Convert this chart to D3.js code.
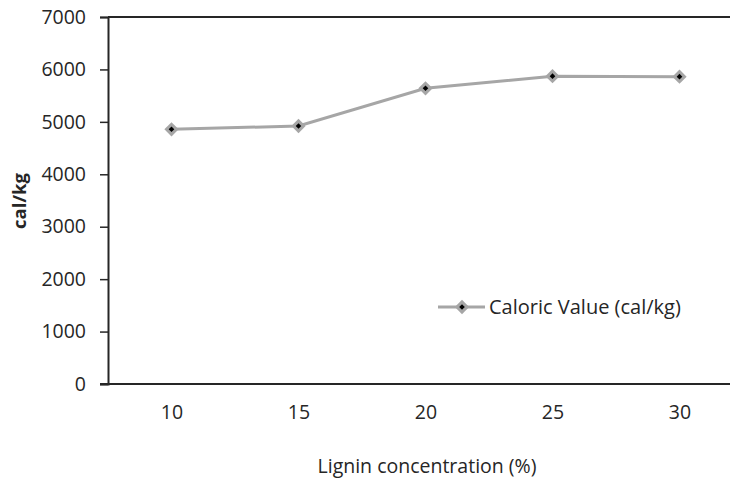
<!DOCTYPE html>
<html>
<head>
<meta charset="utf-8">
<script src="https://cdn.jsdelivr.net/npm/d3@7"></script>
<style>
  body { margin: 0; background: #fff; }
  svg { display: block; }
  text { font-family: "Open Sans", "DejaVu Sans", sans-serif; fill: #262626; }
</style>
</head>
<body>
<div id="chart"></div>
<script>
var categories = ["10", "15", "20", "25", "30"];
var caloric = [4858, 4921, 5640, 5872, 5862];
var yTicks = [0, 1000, 2000, 3000, 4000, 5000, 6000, 7000];
var seriesName = "Caloric Value (cal/kg)";

var width = 730, height = 482;
var plotLeft = 108, plotTop = 17, plotBottom = 384, plotRight = 743;
var fs = "19.5px";

var svg = d3.select("#chart").append("svg")
    .attr("width", width)
    .attr("height", height);

var x = d3.scalePoint()
    .domain(categories)
    .range([plotLeft, plotRight])
    .padding(0.5);

var y = d3.scaleLinear()
    .domain([0, 7000])
    .range([plotBottom, plotTop]);

// top frame line
svg.append("line")
    .attr("x1", plotLeft).attr("x2", width)
    .attr("y1", y(7000)).attr("y2", y(7000))
    .attr("stroke", "#262626").attr("stroke-width", 2);

// y axis
var yAxis = svg.append("g")
    .attr("transform", "translate(" + plotLeft + ",0)")
    .call(d3.axisLeft(y).tickValues(yTicks).tickSize(8).tickPadding(14).tickFormat(d3.format("d")));
yAxis.select(".domain").attr("stroke", "#262626").attr("stroke-width", 2);
yAxis.selectAll(".tick line").attr("stroke", "#262626").attr("stroke-width", 1.5);
yAxis.selectAll(".tick text").style("font-size", fs).attr("fill", "#262626");

// x axis
var xAxis = svg.append("g")
    .attr("transform", "translate(0," + plotBottom + ")")
    .call(d3.axisBottom(x).tickSize(0).tickPadding(21));
xAxis.select(".domain").attr("d", "M" + (plotLeft - 8) + ",0H" + width)
    .attr("stroke", "#262626").attr("stroke-width", 2);
xAxis.selectAll(".tick text").style("font-size", fs).attr("fill", "#262626");

// series
var line = d3.line()
    .x(function(d, i) { return x(categories[i]); })
    .y(function(d) { return y(d); });

svg.append("path")
    .datum(caloric)
    .attr("d", line)
    .attr("fill", "none")
    .attr("stroke", "#a6a6a6")
    .attr("stroke-width", 3);

var diamond = d3.symbol().type(d3.symbolDiamond2).size(130);
var dot = d3.symbol().type(d3.symbolDiamond2).size(20);

var pts = svg.selectAll(".pt")
    .data(caloric)
    .enter().append("g")
    .attr("class", "pt")
    .attr("transform", function(d, i) { return "translate(" + x(categories[i]) + "," + y(d) + ")"; });
pts.append("path").attr("d", diamond).attr("fill", "#a6a6a6");
pts.append("path").attr("d", dot).attr("fill", "#000");

// legend
var lg = svg.append("g").attr("transform", "translate(438,307)");
lg.append("line").attr("x1", 0).attr("x2", 47).attr("y1", 0).attr("y2", 0)
    .attr("stroke", "#a6a6a6").attr("stroke-width", 3);
lg.append("path").attr("transform", "translate(24,0)").attr("d", diamond).attr("fill", "#a6a6a6");
lg.append("path").attr("transform", "translate(24,0)").attr("d", dot).attr("fill", "#000");
lg.append("text").attr("x", 51).attr("y", 0).attr("dy", "0.35em")
    .style("font-size", "20px").text(seriesName);

// axis titles
svg.append("text")
    .attr("x", 427).attr("y", 466).attr("dy", "0.35em")
    .attr("text-anchor", "middle")
    .style("font-size", fs)
    .text("Lignin concentration (%)");

svg.append("text")
    .attr("transform", "translate(20,201) rotate(-90)")
    .attr("dy", "0.35em")
    .attr("text-anchor", "middle")
    .style("font-size", "18.5px").style("font-weight", "bold")
    .text("cal/kg");
</script>
</body>
</html>
